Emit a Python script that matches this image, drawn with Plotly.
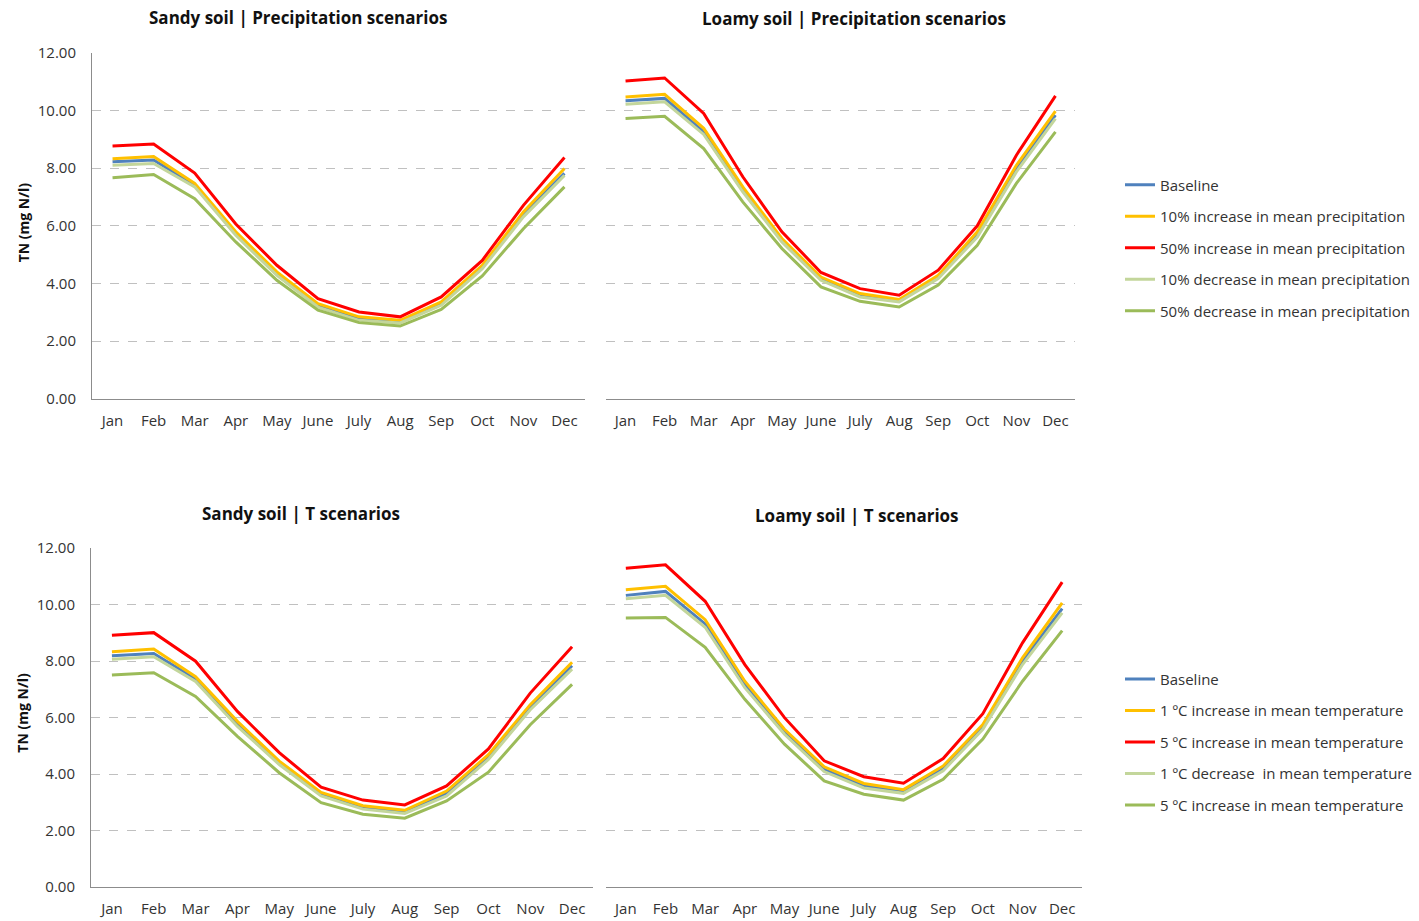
import plotly.graph_objects as go

W, H = 1419, 921

months = ["Jan", "Feb", "Mar", "Apr", "May", "June", "July", "Aug", "Sep", "Oct", "Nov", "Dec"]
y_ticks = [0, 2, 4, 6, 8, 10, 12]
y_tick_text = ["0.00", "2.00", "4.00", "6.00", "8.00", "10.00", "12.00"]

precip_names = [
    "Baseline",
    "10% increase in mean precipitation",
    "50% increase in mean precipitation",
    "10% decrease in mean precipitation",
    "50% decrease in mean precipitation",
]
temp_names = [
    "Baseline",
    "1 ºC increase in mean temperature",
    "5 ºC increase in mean temperature",
    "1 ºC decrease  in mean temperature",
    "5 ºC increase in mean temperature",
]
colors = ["#4F81BD", "#FFC000", "#FF0000", "#C3D69B", "#9BBB59"]

# Sandy soil, precipitation scenarios (TN, mg N/l)
sandy_p_base = [8.22, 8.28, 7.41, 5.73, 4.34, 3.24, 2.78, 2.68, 3.30, 4.57, 6.40, 7.82]
sandy_p_inc10 = [8.33, 8.40, 7.47, 5.79, 4.40, 3.30, 2.84, 2.72, 3.36, 4.63, 6.48, 7.99]
sandy_p_inc50 = [8.77, 8.84, 7.83, 6.06, 4.63, 3.47, 3.01, 2.84, 3.53, 4.80, 6.71, 8.37]
sandy_p_dec10 = [8.10, 8.16, 7.35, 5.67, 4.28, 3.18, 2.72, 2.63, 3.24, 4.51, 6.31, 7.75]
sandy_p_dec50 = [7.67, 7.78, 6.94, 5.44, 4.11, 3.07, 2.64, 2.52, 3.10, 4.26, 5.90, 7.35]

# Loamy soil, precipitation scenarios
loamy_p_base = [10.34, 10.42, 9.26, 7.27, 5.50, 4.17, 3.59, 3.40, 4.22, 5.70, 7.98, 9.84]
loamy_p_inc10 = [10.47, 10.56, 9.38, 7.35, 5.56, 4.22, 3.65, 3.44, 4.28, 5.79, 8.10, 9.98]
loamy_p_inc50 = [11.02, 11.13, 9.90, 7.70, 5.79, 4.38, 3.82, 3.59, 4.46, 6.00, 8.45, 10.51]
loamy_p_dec10 = [10.22, 10.30, 9.17, 7.18, 5.44, 4.11, 3.53, 3.36, 4.17, 5.61, 7.87, 9.72]
loamy_p_dec50 = [9.72, 9.80, 8.68, 6.83, 5.21, 3.88, 3.38, 3.18, 3.94, 5.32, 7.47, 9.26]

# Sandy soil, temperature scenarios
sandy_t_base = [8.19, 8.27, 7.37, 5.78, 4.40, 3.29, 2.82, 2.66, 3.31, 4.60, 6.37, 7.84]
sandy_t_inc1 = [8.33, 8.43, 7.45, 5.87, 4.46, 3.35, 2.88, 2.72, 3.40, 4.69, 6.46, 7.96]
sandy_t_inc5 = [8.92, 9.01, 8.00, 6.22, 4.76, 3.54, 3.08, 2.91, 3.58, 4.89, 6.87, 8.51]
sandy_t_dec1 = [8.07, 8.16, 7.28, 5.69, 4.34, 3.23, 2.76, 2.61, 3.23, 4.52, 6.28, 7.72]
sandy_t_inc5b = [7.51, 7.59, 6.75, 5.34, 4.05, 2.99, 2.58, 2.44, 3.05, 4.07, 5.75, 7.18]

# Loamy soil, temperature scenarios
loamy_t_base = [10.33, 10.47, 9.32, 7.17, 5.50, 4.17, 3.59, 3.38, 4.20, 5.67, 8.00, 9.86]
loamy_t_inc1 = [10.53, 10.65, 9.47, 7.29, 5.59, 4.26, 3.67, 3.45, 4.29, 5.76, 8.12, 10.06]
loamy_t_inc5 = [11.29, 11.41, 10.12, 7.88, 6.00, 4.47, 3.91, 3.68, 4.55, 6.14, 8.65, 10.80]
loamy_t_dec1 = [10.21, 10.33, 9.20, 7.06, 5.41, 4.09, 3.51, 3.32, 4.12, 5.59, 7.88, 9.71]
loamy_t_inc5b = [9.53, 9.55, 8.49, 6.65, 5.06, 3.76, 3.29, 3.08, 3.82, 5.24, 7.29, 9.08]

panels = [
    dict(series=[sandy_p_base, sandy_p_inc10, sandy_p_inc50, sandy_p_dec10, sandy_p_dec50],
         names=precip_names, xa="x", ya="y", legend="legend", show=True,
         title="Sandy soil | Precipitation scenarios", tx=298, ty=15),
    dict(series=[loamy_p_base, loamy_p_inc10, loamy_p_inc50, loamy_p_dec10, loamy_p_dec50],
         names=precip_names, xa="x2", ya="y2", legend="legend", show=False,
         title="Loamy soil | Precipitation scenarios", tx=854, ty=16),
    dict(series=[sandy_t_base, sandy_t_inc1, sandy_t_inc5, sandy_t_dec1, sandy_t_inc5b],
         names=temp_names, xa="x3", ya="y3", legend="legend2", show=True,
         title="Sandy soil | T scenarios", tx=301, ty=512),
    dict(series=[loamy_t_base, loamy_t_inc1, loamy_t_inc5, loamy_t_dec1, loamy_t_inc5b],
         names=temp_names, xa="x4", ya="y4", legend="legend2", show=False,
         title="Loamy soil | T scenarios", tx=857, ty=514),
]

FONT = "Open Sans"
TXT = "#333333"

fig = go.Figure()
for p in panels:
    for i, (vals, name) in enumerate(zip(p["series"], p["names"])):
        fig.add_trace(go.Scatter(
            x=months, y=vals, name=name, mode="lines",
            line=dict(color=colors[i], width=3),
            xaxis=p["xa"], yaxis=p["ya"],
            legend=p["legend"], legendgroup=f'{p["legend"]}_{i}',
            showlegend=p["show"],
        ))

# page placement: figure drawn 8px below the top of the view, 904px tall on screen
TOP, VIEW_H = 8, 904


def px_x(v):
    return v / W


def px_y(v):
    return 1 - (v - TOP) / VIEW_H


# plot-area boxes in screen pixels: (left, right, top, bottom)
boxes = [(92, 585, 50, 397), (606, 1075, 50, 397), (91, 593, 547, 887), (606, 1082, 547, 887)]

axis_common_x = dict(
    type="category", range=[-0.5, 11.5], showgrid=False, zeroline=False,
    showline=True, linecolor="#8C8C8C", linewidth=1, ticks="",
    tickfont=dict(family=FONT, size=15, color=TXT), ticklabelstandoff=8,
)
axis_common_y = dict(
    range=[0, 12], tickvals=y_ticks, ticktext=y_tick_text, showgrid=True,
    gridcolor="#C0C0C0", griddash="dash", gridwidth=1, zeroline=False, ticks="",
    tickfont=dict(family=FONT, size=15, color=TXT),
)

layout_axes = {}
for k, (l, r, t, b) in enumerate(boxes):
    sx = "" if k == 0 else str(k + 1)
    layout_axes[f"xaxis{sx}"] = dict(axis_common_x, domain=[px_x(l), px_x(r)],
                                     anchor=f"y{sx}")
    left = k in (0, 2)
    layout_axes[f"yaxis{sx}"] = dict(axis_common_y, domain=[px_y(b), px_y(t)],
                                     anchor=f"x{sx}", showticklabels=left,
                                     showline=left, linecolor="#8C8C8C", linewidth=1,
                                     ticklabelstandoff=12)

annotations = []
for p in panels:
    annotations.append(dict(
        text=p["title"], x=px_x(p["tx"]), y=px_y(p["ty"]), xref="paper", yref="paper",
        xanchor="center", yanchor="middle", showarrow=False,
        font=dict(family=FONT, size=17, color="#111111", weight="bold"),
    ))
for yc in (220, 712):
    annotations.append(dict(
        text="TN (mg N/l)", x=px_x(23), y=px_y(yc), xref="paper", yref="paper",
        xanchor="center", yanchor="middle", showarrow=False, textangle=-90,
        font=dict(family=FONT, size=14, color="#111111", weight="bold"),
    ))

legend_common = dict(
    xref="paper", yref="paper", xanchor="left", yanchor="top",
    font=dict(family=FONT, size=15, color=TXT), bgcolor="rgba(0,0,0,0)",
    traceorder="grouped", tracegroupgap=9, itemwidth=30,
)

fig.update_layout(
    width=W, height=H, margin=dict(l=0, r=0, t=0, b=0),
    paper_bgcolor="white", plot_bgcolor="white",
    showlegend=True,
    legend=dict(legend_common, x=px_x(1120), y=px_y(166)),
    legend2=dict(legend_common, x=px_x(1120), y=px_y(662)),
    annotations=annotations,
    **layout_axes,
)

fig.write_html("out.html")
